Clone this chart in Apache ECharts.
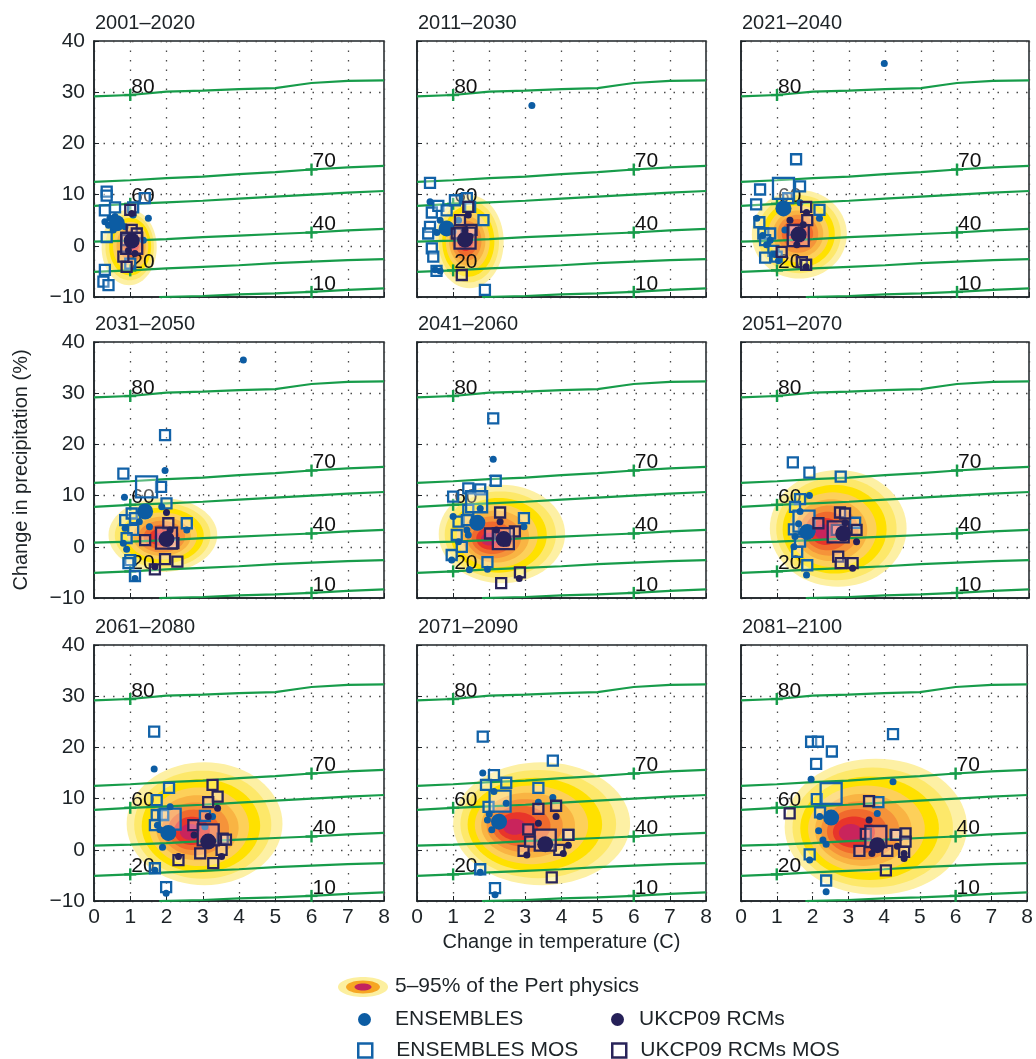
<!DOCTYPE html>
<html>
<head>
<meta charset="utf-8">
<title>Change in temperature vs precipitation</title>
<script src="https://cdn.jsdelivr.net/npm/echarts@6/dist/echarts.min.js"></script>
<style>
html, body { margin: 0; padding: 0; background: #fff; }
#climate_chart { width: 1036px; height: 1059px; }
</style>
</head>
<body>
<div id="climate_chart"></div>
<script>
// ---- data ----
var panelTitles = ['2001–2020', '2011–2030', '2021–2040', '2031–2050', '2041–2060',
	'2051–2070', '2061–2080', '2071–2090', '2081–2100'];

// percentile lines (same in every panel)
var pctNames = ['80', '70', '60', '40', '20', '10'];
var pct80 = [[0, 29.2], [1, 29.45], [2, 30.1], [3, 30.3], [4, 30.6], [5, 30.8], [5.7, 31.5], [6, 31.8], [7, 32.2], [8, 32.3]];
var pct70 = [[0, 12.5], [1, 12.8], [2, 13.2], [3, 13.5], [4, 14.0], [5, 14.4], [6, 14.9], [7, 15.3], [8, 15.6]];
var pct60 = [[0, 7.8], [1, 8.2], [2, 8.5], [3, 8.8], [4, 9.2], [5, 9.6], [6, 10.0], [7, 10.4], [8, 10.7]];
var pct40 = [[0, 0.8], [1, 1.0], [2, 1.3], [3, 1.7], [4, 2.0], [5, 2.3], [6, 2.6], [7, 3.0], [8, 3.3]];
var pct20 = [[0, -5.1], [1, -4.8], [2, -4.4], [3, -4.1], [4, -3.8], [5, -3.4], [6, -3.1], [7, -2.8], [8, -2.6]];
var pct10 = [[1.8, -10], [3, -9.8], [4, -9.5], [5, -9.3], [6, -9.0], [7, -8.6], [8, -8.3]];
var pctLabelX = [1, 6, 1, 6, 1, 6];

// Pert physics density: outer contour [cx, cy, rx, ry] and peak [x, y]
var blobOuter = [[0.97, -0.3, 0.76, 7.4], [1.45, 0.8, 0.95, 9.1], [1.62, 2.25, 1.32, 8.65],
	[1.9, 2.3, 1.5, 7.2], [2.35, 2.5, 1.75, 9.6], [2.7, 3.6, 1.9, 11.4],
	[3.05, 5.1, 2.15, 12.0], [3.45, 5.1, 2.45, 12.0], [3.77, 4.5, 2.55, 13.3]];
var blobPeak = [[1.08, 0.3], [1.33, 1.1], [1.55, 2.4], [1.85, 1.8], [2.0, 1.5],
	[2.3, 2.9], [2.65, 3.5], [2.7, 4.5], [3.07, 3.3]];

// ENSEMBLES (filled blue dots), one list per panel
var ensPts = [
	[[0.3, 4.7], [0.44, 5.4], [0.58, 5.7], [0.72, 4.7], [0.86, 3.7], [0.53, 3.1], [1.5, 5.4], [1.08, 6.0], [1.36, 1.1], [0.4, 4.0], [0.65, 4.2]],
	[[0.36, 8.6], [0.64, 5.0], [1.15, 5.0], [0.73, 3.1], [0.91, 3.7], [0.64, -4.9], [0.5, -4.7], [3.18, 27.4], [0.55, 2.6], [1.0, 2.8]],
	[[3.98, 35.6], [0.44, 5.4], [1.22, 3.1], [2.18, 5.4], [1.64, 8.4], [0.71, 0.2], [0.94, -1.7], [1.04, -2.9], [0.81, 1.1], [0.6, 2.0]],
	[[4.12, 36.5], [0.84, 9.7], [1.96, 14.9], [1.87, 7.8], [1.53, 3.9], [0.86, 3.6], [0.81, 0.7], [2.56, 3.3], [1.13, -6.2], [1.25, 4.9], [0.9, -0.5]],
	[[2.11, 17.1], [1.0, 5.9], [1.38, 3.3], [1.42, 2.3], [0.96, -2.6], [1.45, -4.5], [1.95, -4.4], [2.96, 3.9], [1.75, 7.5], [1.15, 1.0]],
	[[1.9, 10.0], [1.64, 6.9], [1.5, 2.0], [1.47, 0.0], [1.82, -5.5], [1.6, 4.5]],
	[[1.66, 15.8], [1.82, 3.9], [1.89, 0.5], [2.1, 8.4], [1.68, -4.0], [1.99, -8.5], [3.06, 4.5], [3.27, 6.5], [1.75, 4.8]],
	[[1.82, 15.0], [2.13, 11.4], [1.95, 5.8], [2.07, 3.9], [2.47, 9.1], [3.36, 9.3], [3.76, 10.2], [1.75, -4.4], [2.16, -8.8], [2.0, 7.0]],
	[[1.96, 13.8], [4.25, 13.3], [2.17, 3.7], [2.29, 1.9], [2.38, 1.1], [3.81, 7.1], [1.92, -2.0], [2.38, -8.2], [2.2, 6.5]]
];
var ensMean = [[0.63, 4.4], [0.82, 3.4], [1.18, 7.3], [1.41, 6.9], [1.67, 4.7], [1.84, 2.9], [2.05, 3.3], [2.27, 5.5], [2.52, 6.3]];

// ENSEMBLES MOS (open blue squares)
var ensMosPts = [
	[[0.35, 10.6], [0.35, 9.8], [0.3, 6.9], [0.58, 7.5], [0.35, 1.7], [0.3, -4.7], [0.26, -7.0], [0.4, -7.7], [1.08, 7.5], [1.4, 9.3], [1.0, -3.5]],
	[[0.36, 12.3], [0.41, 6.5], [0.59, 7.8], [0.82, 6.9], [1.05, 8.9], [1.38, 9.3], [1.47, 7.6], [1.84, 5.0], [0.36, 3.7], [0.31, 2.4], [0.41, -0.5], [0.45, -2.1], [0.54, -4.9], [1.88, -8.6]],
	[[1.53, 16.9], [0.53, 11.0], [0.42, 8.1], [1.64, 11.6], [0.51, 4.6], [2.18, 7.0], [1.31, 9.3], [0.62, 2.4], [0.81, 2.4], [0.67, 1.1], [0.9, -1.0], [0.67, -2.3], [0.99, -2.1]],
	[[1.96, 21.8], [0.81, 14.3], [1.85, 11.7], [2.0, 8.5], [2.56, 4.6], [0.86, 5.2], [1.04, 6.5], [1.08, 3.3], [1.13, 5.6], [0.9, 1.7], [1.0, -2.6], [0.95, -3.2], [1.13, -5.7]],
	[[2.11, 25.1], [2.18, 12.9], [1.0, 9.8], [1.42, 11.4], [1.75, 11.2], [1.42, 7.2], [1.15, 4.9], [1.38, 5.2], [1.1, 2.3], [1.24, 0.0], [0.96, -1.6], [1.95, -3.0], [2.96, 5.6]],
	[[1.44, 16.5], [1.9, 14.5], [2.77, 13.7], [1.64, 9.3], [1.5, 7.8], [1.47, 3.4], [1.64, 1.0], [1.56, -1.0], [1.84, -3.6], [3.17, 4.7]],
	[[1.66, 23.1], [2.07, 12.1], [1.73, 9.7], [1.73, 6.8], [1.91, 6.8], [1.68, 4.8], [3.06, 6.6], [1.68, -3.6], [1.99, -7.3]],
	[[1.82, 22.1], [3.76, 17.4], [2.13, 14.6], [1.91, 12.7], [2.47, 13.1], [3.36, 12.1], [1.98, 8.4], [1.75, -3.8], [2.16, -7.5], [4.19, 2.9]],
	[[1.96, 21.1], [2.15, 21.1], [2.54, 19.2], [2.1, 16.8], [4.25, 22.6], [2.12, 9.9], [2.21, 7.3], [3.84, 9.3], [1.92, -0.9], [2.38, -6.0], [4.32, 2.9]]
];
var ensMosMean = [null, null, [1.18, 11.2], [1.45, 11.7], [1.65, 8.8], [1.75, 5.0], [2.1, 6.0], [2.3, 9.5], [2.52, 11.0]];

// UKCP09 RCMs (filled navy dots)
var ukcpPts = [
	[[1.04, 6.3], [0.95, -0.9], [1.13, -1.5]],
	[[1.42, 6.0], [1.33, 3.1], [1.47, 1.8]],
	[[1.82, 6.5], [1.36, 5.0], [1.73, 4.1], [1.81, -4.1], [1.55, 0.2]],
	[[2.0, 6.7], [1.68, -3.9], [2.1, 3.3]],
	[[2.3, 4.9], [2.83, -6.2], [2.2, 3.3], [2.49, 0.7]],
	[[2.89, 4.7], [3.21, 1.0], [3.1, -4.2]],
	[[3.41, 8.1], [2.76, 2.9], [2.33, -1.3], [3.52, -1.3], [3.15, 6.5]],
	[[3.36, 5.2], [3.85, 6.5], [3.04, -1.0], [4.05, -0.7], [4.19, 0.9]],
	[[3.58, 5.8], [3.66, -0.7], [4.37, 0.7], [4.56, -1.7], [4.56, -0.7]]
];
var ukcpMean = [[1.04, 1.0], [1.33, 1.2], [1.6, 2.2], [2.0, 1.5], [2.4, 1.5], [2.84, 2.6], [3.15, 1.6], [3.55, 1.1], [3.81, 0.9]];

// UKCP09 RCMs MOS (open navy squares)
var ukcpMosPts = [
	[[1.04, 3.1], [0.9, 1.1], [1.18, 2.4], [0.81, -2.1], [0.9, -4.1], [1.0, 7.0]],
	[[1.19, 5.0], [1.42, 7.6], [1.24, -5.7], [1.51, 3.1], [1.1, 2.4]],
	[[1.84, 5.0], [1.81, 7.6], [1.69, -3.2], [1.81, -3.7], [1.13, -1.2], [1.47, 3.1]],
	[[2.05, 4.6], [1.41, 1.3], [2.3, -2.9], [1.96, -2.4], [1.68, -4.4], [2.19, 0.7]],
	[[2.3, 6.7], [2.71, 3.0], [2.02, 2.6], [2.85, -5.0], [2.33, -7.1]],
	[[2.75, 6.7], [2.89, 6.5], [2.66, 3.3], [3.21, 3.3], [2.7, -1.9], [2.77, -3.2], [3.1, -3.2], [2.15, 4.6]],
	[[3.27, 12.7], [3.41, 10.4], [3.15, 9.3], [2.74, 4.8], [3.55, 2.2], [2.93, -0.7], [3.52, 0.0], [2.33, -2.0], [3.29, -2.6], [3.64, 2.0]],
	[[3.36, 8.0], [3.85, 8.6], [3.08, 4.0], [4.19, 2.9], [2.95, -0.2], [3.94, 0.0], [3.73, -5.4], [3.13, 1.6]],
	[[1.36, 7.1], [3.58, 9.5], [3.49, 3.1], [4.34, 2.9], [4.6, 3.2], [4.6, 1.6], [3.31, -0.2], [4.09, -0.2], [4.05, -4.0], [4.56, -0.4]]
];
var ukcpMosMean = [[1.04, 0.5], [1.33, 1.5], [1.59, 2.0], [2.0, 1.7], [2.39, 1.6], [2.7, 2.9], [3.15, 2.9], [3.55, 1.9], [3.77, 2.6]];

// ---- layout & styles ----
var FONT = "'Liberation Sans', Arial, Helvetica, sans-serif";
var INK = '#1d2327';
var GREEN = '#179c4a';
var colLeft = [94, 417, 741];
var colWidth = [290, 289, 288];
var rowTop = [41, 342, 645];
var panelHeight = 256;
var blobColors = ['#fdf0a4', '#fde86a', '#ffe100', '#fdd05a', '#f9b443', '#f5933a', '#f06a2d', '#e8352a', '#c9245c'];
var blobScale = [1, 0.88, 0.76, 0.64, 0.53, 0.43, 0.33, 0.23, 0.13];

var climate_chart = {};

// y value of a percentile line at a given x (x is always one of its points)
climate_chart.lineY = function(line, x) {
	for (var k = 0; k < line.length; k++) {
		if (line[k][0] === x) return line[k][1];
	}
	return null;
};

// nested contours from outer contour towards peak
climate_chart.blobRings = function(i) {
	var o = blobOuter[i], p = blobPeak[i], rings = [];
	for (var l = 0; l < blobScale.length; l++) {
		var t = l / (blobScale.length - 1);
		rings.push([o[0] + (p[0] - o[0]) * t, o[1] + (p[1] - o[1]) * t,
			o[2] * blobScale[l], o[3] * blobScale[l], l]);
	}
	return rings;
};

climate_chart.renderBlob = function(params, api) {
	var cx = api.value(0), cy = api.value(1), rx = api.value(2), ry = api.value(3);
	var pts = [];
	for (var k = 0; k < 72; k++) {
		var a = k / 72 * Math.PI * 2;
		pts.push(api.coord([cx + rx * Math.cos(a), cy + ry * Math.sin(a)]));
	}
	return {
		type: 'polygon',
		shape: { points: pts },
		style: { fill: blobColors[api.value(4)] }
	};
};

// green "+" with percentile number above-right
climate_chart.renderPctLabel = function(params, api) {
	var pt = api.coord([api.value(0), api.value(1)]);
	return {
		type: 'group',
		children: [
			{ type: 'rect', shape: { x: pt[0] - 6, y: pt[1] - 1.2, width: 12, height: 2.4 }, style: { fill: GREEN } },
			{ type: 'rect', shape: { x: pt[0] - 1.2, y: pt[1] - 6, width: 2.4, height: 12 }, style: { fill: GREEN } },
			{ type: 'text', x: pt[0] + 1, y: pt[1] + 2.5, z2: 50,
				style: { text: pctNames[api.value(2)], fontFamily: FONT, fontSize: 21, fontWeight: 'normal',
					fill: '#111', opacity: 1, align: 'left', verticalAlign: 'bottom' } }
		]
	};
};

climate_chart.init = function() {
	var chart = echarts.init(document.getElementById('climate_chart'));
	var pctLines = [pct80, pct70, pct60, pct40, pct20, pct10];
	var grids = [], xAxes = [], yAxes = [], titles = [], series = [];

	for (var i = 0; i < 9; i++) {
		var c = i % 3, r = Math.floor(i / 3);
		grids.push({
			left: colLeft[c], top: rowTop[r], width: colWidth[c], height: panelHeight,
			show: true, borderColor: INK, borderWidth: 1.5
		});
		titles.push({
			text: panelTitles[i], left: colLeft[c] - 4, top: rowTop[r] - 33,
			textStyle: { fontFamily: FONT, fontSize: 20, fontWeight: 'normal', color: INK }
		});
		xAxes.push({
			gridIndex: i, type: 'value', min: 0, max: 8, interval: 1,
			axisLine: { show: true, onZero: false, lineStyle: { color: INK, width: 1.5 } },
			axisTick: { show: true, inside: true, length: 5, lineStyle: { color: INK } },
			axisLabel: {
				show: r === 2, fontFamily: FONT, fontSize: 21, color: INK, margin: 6,
				showMinLabel: true, showMaxLabel: true
			},
			splitLine: { show: true, lineStyle: { color: '#4a4a4a', width: 1.3, type: [1.5, 8] } },
			name: i === 7 ? 'Change in temperature (C)' : '',
			nameLocation: 'middle', nameGap: 31,
			nameTextStyle: { fontFamily: FONT, fontSize: 20, color: INK }
		});
		yAxes.push({
			gridIndex: i, type: 'value', min: -10, max: 40, interval: 10,
			axisLine: { show: true, onZero: false, lineStyle: { color: INK, width: 1.5 } },
			axisTick: { show: true, inside: true, length: 5, lineStyle: { color: INK } },
			axisLabel: {
				show: c === 0, fontFamily: FONT, fontSize: 21, color: INK, margin: 9,
				showMinLabel: true, showMaxLabel: true,
				formatter: function(v) { return v < 0 ? '\u2212' + Math.abs(v) : String(v); }
			},
			splitLine: { show: true, lineStyle: { color: '#4a4a4a', width: 1.3, type: [1.5, 8] } },
			name: i === 3 ? 'Change in precipitation (%)' : '',
			nameLocation: 'middle', nameGap: 63,
			nameTextStyle: { fontFamily: FONT, fontSize: 20, color: INK }
		});

		// density contours
		series.push({
			type: 'custom', name: 'Pert physics', xAxisIndex: i, yAxisIndex: i,
			renderItem: climate_chart.renderBlob, clip: true, silent: true, z: 1,
			encode: { x: 0, y: 1 },
			data: climate_chart.blobRings(i)
		});

		// percentile lines and their labels
		var labelPts = [];
		for (var p = 0; p < pctLines.length; p++) {
			series.push({
				type: 'line', name: 'pct' + pctNames[p], xAxisIndex: i, yAxisIndex: i,
				data: pctLines[p], showSymbol: false, silent: true, z: 3,
				lineStyle: { color: GREEN, width: 2.2 }
			});
			labelPts.push([pctLabelX[p], climate_chart.lineY(pctLines[p], pctLabelX[p]), p]);
		}
		series.push({
			type: 'custom', name: 'pctLabels', xAxisIndex: i, yAxisIndex: i, silent: true, z: 4,
			renderItem: climate_chart.renderPctLabel, encode: { x: 0, y: 1 },
			data: labelPts
		});

		// model results
		series.push({
			type: 'scatter', name: 'ENSEMBLES MOS', xAxisIndex: i, yAxisIndex: i, z: 5,
			symbol: 'rect', symbolSize: 10,
			itemStyle: { color: 'rgba(255,255,255,0.3)', borderColor: '#1262a8', borderWidth: 2.3, opacity: 1 },
			data: ensMosPts[i].concat(ensMosMean[i] ? [{ value: ensMosMean[i], symbolSize: 21 }] : [])
		});
		series.push({
			type: 'scatter', name: 'ENSEMBLES', xAxisIndex: i, yAxisIndex: i, z: 6,
			symbol: 'circle', symbolSize: 7, itemStyle: { color: '#0c5ca3', opacity: 1 },
			data: ensPts[i].concat([{ value: ensMean[i], symbolSize: 16 }])
		});
		series.push({
			type: 'scatter', name: 'UKCP09 RCMs MOS', xAxisIndex: i, yAxisIndex: i, z: 7,
			symbol: 'rect', symbolSize: 10,
			itemStyle: { color: 'rgba(255,255,255,0.3)', borderColor: '#29245a', borderWidth: 2.3, opacity: 1 },
			data: ukcpMosPts[i].concat([{ value: ukcpMosMean[i], symbolSize: 21 }])
		});
		series.push({
			type: 'scatter', name: 'UKCP09 RCMs', xAxisIndex: i, yAxisIndex: i, z: 8,
			symbol: 'circle', symbolSize: 7, itemStyle: { color: '#252058', opacity: 1 },
			data: ukcpPts[i].concat([{ value: ukcpMean[i], symbolSize: 16 }])
		});
	}

	var legendText = { fontFamily: FONT, fontSize: 21, color: INK };
	var option = {
		animation: false,
		backgroundColor: '#fff',
		title: titles,
		grid: grids,
		xAxis: xAxes,
		yAxis: yAxes,
		legend: [{
			left: 353, top: 1004, itemWidth: 13, itemHeight: 13, selectedMode: false,
			textStyle: Object.assign({ padding: [0, 0, 0, 19] }, legendText),
			data: [{ name: 'ENSEMBLES', icon: 'circle', itemStyle: { color: '#0c5ca3' } }]
		}, {
			left: 606, top: 1004, itemWidth: 13, itemHeight: 13, selectedMode: false,
			textStyle: Object.assign({ padding: [0, 0, 0, 10] }, legendText),
			data: [{ name: 'UKCP09 RCMs', icon: 'circle', itemStyle: { color: '#252058' } }]
		}, {
			left: 352, top: 1035, itemWidth: 14, itemHeight: 14, selectedMode: false,
			textStyle: Object.assign({ padding: [0, 0, 0, 19] }, legendText),
			data: [{ name: 'ENSEMBLES MOS', icon: 'rect',
				itemStyle: { color: '#fff', borderColor: '#1262a8', borderWidth: 2.5 } }]
		}, {
			left: 606, top: 1035, itemWidth: 14, itemHeight: 14, selectedMode: false,
			textStyle: Object.assign({ padding: [0, 0, 0, 9] }, legendText),
			data: [{ name: 'UKCP09 RCMs MOS', icon: 'rect',
				itemStyle: { color: '#fff', borderColor: '#29245a', borderWidth: 2.5 } }]
		}],
		graphic: [
			{ type: 'ellipse', shape: { cx: 363, cy: 987, rx: 25, ry: 10 }, style: { fill: '#fcef9f' } },
			{ type: 'ellipse', shape: { cx: 363, cy: 987, rx: 17, ry: 6.5 }, style: { fill: '#f6a623' } },
			{ type: 'ellipse', shape: { cx: 363, cy: 987, rx: 8.5, ry: 3.5 }, style: { fill: '#c3225e' } },
			{ type: 'text', left: 395, top: 976,
				style: { text: '5–95% of the Pert physics', fontFamily: FONT, fontSize: 21, fill: INK } }
		],
		series: series
	};
	chart.setOption(option);
	climate_chart.chart = chart;
};

climate_chart.init();
</script>
</body>
</html>
